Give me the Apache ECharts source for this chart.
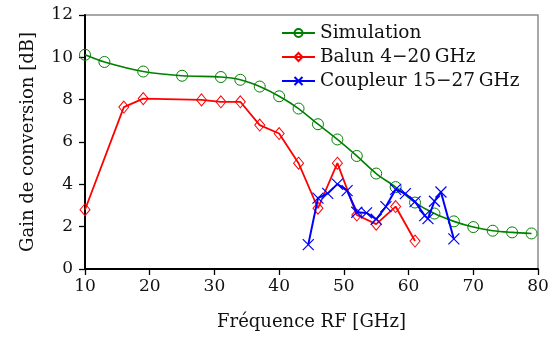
<!DOCTYPE html>
<html><head><meta charset="utf-8">
<script src="https://cdn.jsdelivr.net/npm/echarts@6/dist/echarts.min.js"></script>
<style>html,body{margin:0;padding:0;background:#fff}#c{width:560px;height:338px}</style>
</head><body><div id="c"></div>
<script>
const simX = [10,13,19,25,31,34,37,40,43,46,49,52,55,58,61,64,67,70,73,76,79];
const simY = [10.12,9.78,9.33,9.13,9.07,8.94,8.62,8.16,7.58,6.84,6.12,5.34,4.51,3.87,3.14,2.62,2.25,1.98,1.81,1.73,1.68];
const balunX = [10,16,19,28,31,34,37,40,43,46,49,52,55,58,61];
const balunY = [2.8,7.65,8.05,7.99,7.9,7.9,6.8,6.4,5.0,2.87,5.0,2.55,2.12,2.95,1.32];
const coupX = [44.5,46,47.5,49,50.5,52,53.5,55,56.5,58,59.5,61,62.5,63,64,65,67];
const coupY = [1.15,3.35,3.57,4.01,3.7,2.68,2.65,2.35,2.95,3.76,3.56,3.18,2.52,2.38,3.2,3.64,1.42];
const names = ['Simulation','Balun 4\u221220\u2009GHz','Coupleur 15\u221227\u2009GHz'];
const xTitle = 'Fréquence RF [GHz]';
const yTitle = 'Gain de conversion [dB]';

const F = 'DejaVu Serif';
const zip = (a,b) => a.map((v,i)=>[v,b[i]]);
const chart = echarts.init(document.getElementById('c'), null, {renderer:'canvas'});
chart.setOption({
  animation:false,
  textStyle:{fontFamily:F},
  grid:{left:85,right:22,top:15,bottom:69,show:true,borderColor:'#8c8c8c',borderWidth:1.5,backgroundColor:'transparent'},
  legend:{orient:'vertical',left:281,top:23,padding:0,itemWidth:33,itemHeight:10,itemGap:4,itemTextGap:7,
    textStyle:{fontFamily:F,fontSize:18.5,color:'#111',lineHeight:20},data:names},
  xAxis:{type:'value',min:10,max:80,interval:10,
    name:xTitle,nameLocation:'middle',nameGap:44,nameTextStyle:{fontFamily:F,fontSize:18,color:'#111'},
    axisLine:{lineStyle:{color:'#000',width:2}},
    axisTick:{show:true,inside:false,length:6,lineStyle:{color:'#000',width:1.3}},
    axisLabel:{margin:9,fontFamily:F,fontSize:17,color:'#111'},
    splitLine:{show:false}},
  yAxis:{type:'value',min:0,max:12,interval:2,
    name:yTitle,nameLocation:'middle',nameGap:48,nameTextStyle:{fontFamily:F,fontSize:18,color:'#111'},
    axisLine:{show:true,lineStyle:{color:'#000',width:2}},
    axisTick:{show:true,inside:false,length:6,lineStyle:{color:'#000',width:1.3}},
    axisLabel:{margin:12,fontFamily:F,fontSize:17,color:'#111'},
    splitLine:{show:false}},
  series:[
    {name:names[0],type:'line',data:zip(simX,simY),smooth:0.3,symbol:'circle',symbolSize:11,
      lineStyle:{color:'#008000',width:1.6},itemStyle:{color:'rgba(0,0,0,0)',borderColor:'#008000',borderWidth:1},z:2},
    {name:names[1],type:'line',data:zip(balunX,balunY),symbol:'diamond',symbolSize:[10,12],
      lineStyle:{color:'#ff0000',width:1.8},itemStyle:{color:'rgba(0,0,0,0)',borderColor:'#ff0000',borderWidth:1},z:3},
    {name:names[2],type:'line',data:zip(coupX,coupY),symbol:'path://M0,0L10,10M10,0L0,10',symbolSize:11,
      lineStyle:{color:'#0000ff',width:2},itemStyle:{color:'rgba(0,0,0,0)',borderColor:'#0000ff',borderWidth:1.2},z:4}
  ]
});
</script></body></html>
